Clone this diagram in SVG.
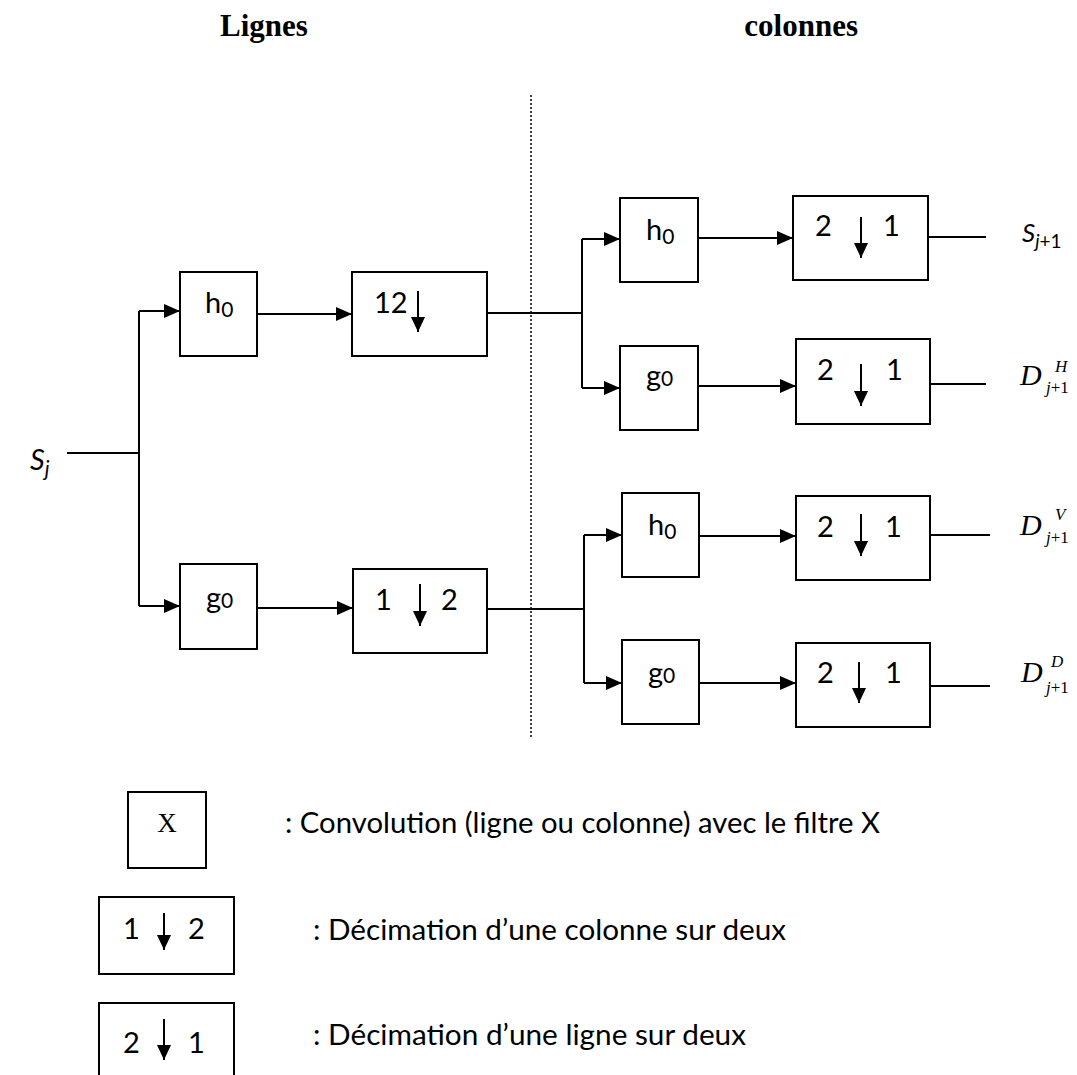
<svg xmlns="http://www.w3.org/2000/svg" width="1077" height="1075" viewBox="0 0 1077 1075">
<style>
.box{fill:#fff;stroke:#000;stroke-width:2}
.ln{fill:none;stroke:#000;stroke-width:2}
.arr{fill:none;stroke:#000;stroke-width:2;marker-end:url(#ah)}
.dn{fill:none;stroke:#000;stroke-width:2;marker-end:url(#dh)}
.t{font-family:Lato,"Liberation Sans",sans-serif;font-size:29px;fill:#000}
.sub{font-size:21px}
.title{font-family:"Liberation Serif",serif;font-weight:bold;font-size:31px;fill:#000}
.m{font-family:"Liberation Serif",serif;font-style:italic;fill:#000}
</style>
<defs>
<marker id="ah" markerUnits="userSpaceOnUse" markerWidth="16" markerHeight="14" refX="16" refY="7" orient="auto"><path d="M0,0 L16,7 L0,14 z" fill="#000"/></marker>
<marker id="dh" markerUnits="userSpaceOnUse" markerWidth="15" markerHeight="14" refX="15" refY="7" orient="auto"><path d="M0,0 L15,7 L0,14 z" fill="#000"/></marker>
</defs>
<rect width="1077" height="1075" fill="#fff"/>

<text class="title" x="220" y="36">Lignes</text>
<text class="title" x="858" y="36" text-anchor="end">colonnes</text>

<g id="connectors">
<line class="ln" x1="531" y1="95" x2="531" y2="737" stroke-dasharray="2,2" style="stroke-width:1.5"/>
<path class="ln" d="M67,453 H139"/>
<path class="ln" d="M139,311 V606"/>
<path class="arr" d="M139,311 H180"/>
<path class="arr" d="M139,606 H180"/>
<path class="arr" d="M257,314 H352"/>
<path class="arr" d="M257,608 H353"/>
<path class="ln" d="M487,313 H582"/>
<path class="ln" d="M582,239 V388"/>
<path class="arr" d="M582,239 H620"/>
<path class="arr" d="M582,388 H620"/>
<path class="arr" d="M698,238 H793"/>
<path class="arr" d="M698,386 H796"/>
<path class="ln" d="M928,237 H986"/>
<path class="ln" d="M927,384 H986"/>
<path class="ln" d="M487,609 H584"/>
<path class="ln" d="M584,535 V683"/>
<path class="arr" d="M584,535 H622"/>
<path class="arr" d="M584,683 H622"/>
<path class="arr" d="M699,536 H796"/>
<path class="arr" d="M699,683 H796"/>
<path class="ln" d="M930,535 H990"/>
<path class="ln" d="M930,686 H990"/>
</g>

<text class="t" x="30" y="470" font-style="italic">S<tspan class="sub" dy="6">j</tspan></text>

<g id="h0_L">
<rect class="box" x="180" y="272" width="77" height="84"/>
<text class="t" x="205" y="313">h<tspan class="sub" dy="4">0</tspan></text>
</g>
<g id="dec_L1">
<rect class="box" x="352" y="272" width="135" height="84"/>
<text class="t" x="374" y="313">12</text>
<path class="dn" d="M418,291 V332"/>
</g>
<g id="g0_L">
<rect class="box" x="180" y="564" width="77" height="85"/>
<text class="t" x="206" y="608">g<tspan class="sub">0</tspan></text>
</g>
<g id="dec_L2">
<rect class="box" x="353" y="569" width="134" height="84"/>
<text class="t" x="375" y="610">1</text>
<text class="t" x="441" y="610">2</text>
<path class="dn" d="M420,584 V626"/>
</g>

<g id="h0_R1">
<rect class="box" x="620" y="198" width="78" height="84"/>
<text class="t" x="646" y="240">h<tspan class="sub" dy="4">0</tspan></text>
</g>
<g id="dec_R1">
<rect class="box" x="793" y="196" width="135" height="84"/>
<text class="t" x="815" y="236">2</text>
<text class="t" x="883" y="236">1</text>
<path class="dn" d="M861,217 V258"/>
</g>
<g id="g0_R1">
<rect class="box" x="620" y="346" width="78" height="84"/>
<text class="t" x="646" y="386">g<tspan class="sub">0</tspan></text>
</g>
<g id="dec_R2">
<rect class="box" x="796" y="339" width="134" height="85"/>
<text class="t" x="817" y="380">2</text>
<text class="t" x="886" y="380">1</text>
<path class="dn" d="M861,364 V406"/>
</g>
<g id="h0_R2">
<rect class="box" x="622" y="493" width="77" height="84"/>
<text class="t" x="648" y="535">h<tspan class="sub" dy="4">0</tspan></text>
</g>
<g id="dec_R3">
<rect class="box" x="796" y="496" width="134" height="84"/>
<text class="t" x="817" y="537">2</text>
<text class="t" x="885" y="537">1</text>
<path class="dn" d="M861,514 V556"/>
</g>
<g id="g0_R2">
<rect class="box" x="622" y="640" width="77" height="84"/>
<text class="t" x="648" y="683">g<tspan class="sub">0</tspan></text>
</g>
<g id="dec_R4">
<rect class="box" x="796" y="643" width="134" height="84"/>
<text class="t" x="817" y="683">2</text>
<text class="t" x="885" y="683">1</text>
<path class="dn" d="M859,662 V703"/>
</g>

<text class="t" x="1022" y="242" font-style="italic" style="font-size:26px">S<tspan dy="6" style="font-size:19px">j</tspan><tspan style="font-size:19px;font-style:normal">+1</tspan></text>
<text class="m" x="1020" y="385" font-size="30">D</text>
<text class="m" x="1055" y="372" font-size="17">H</text>
<text class="m" x="1046" y="393" font-size="17">j<tspan font-style="normal">+1</tspan></text>
<text class="m" x="1020" y="535" font-size="30">D</text>
<text class="m" x="1055" y="520" font-size="17">V</text>
<text class="m" x="1046" y="543" font-size="17">j<tspan font-style="normal">+1</tspan></text>
<text class="m" x="1021" y="682" font-size="30">D</text>
<text class="m" x="1051" y="667" font-size="17">D</text>
<text class="m" x="1046" y="693" font-size="17">j<tspan font-style="normal">+1</tspan></text>

<g id="legend_X">
<rect class="box" x="128" y="792" width="78" height="76"/>
<text x="167" y="832" font-family="Liberation Serif, serif" font-size="27" text-anchor="middle">X</text>
</g>
<text class="t" x="285" y="833" textLength="595" lengthAdjust="spacingAndGlyphs">: Convolution (ligne ou colonne) avec le filtre X</text>
<g id="legend_12">
<rect class="box" x="99" y="897" width="135" height="77"/>
<text class="t" x="123" y="939">1</text>
<text class="t" x="188" y="939">2</text>
<path class="dn" d="M164,913 V950"/>
</g>
<text class="t" x="313" y="940" textLength="473" lengthAdjust="spacingAndGlyphs">: Décimation d’une colonne sur deux</text>
<g id="legend_21">
<rect class="box" x="99" y="1003" width="135" height="100"/>
<text class="t" x="123" y="1053">2</text>
<text class="t" x="188" y="1053">1</text>
<path class="dn" d="M164,1019 V1060"/>
</g>
<text class="t" x="313" y="1045" textLength="433" lengthAdjust="spacingAndGlyphs">: Décimation d’une ligne sur deux</text>
</svg>
